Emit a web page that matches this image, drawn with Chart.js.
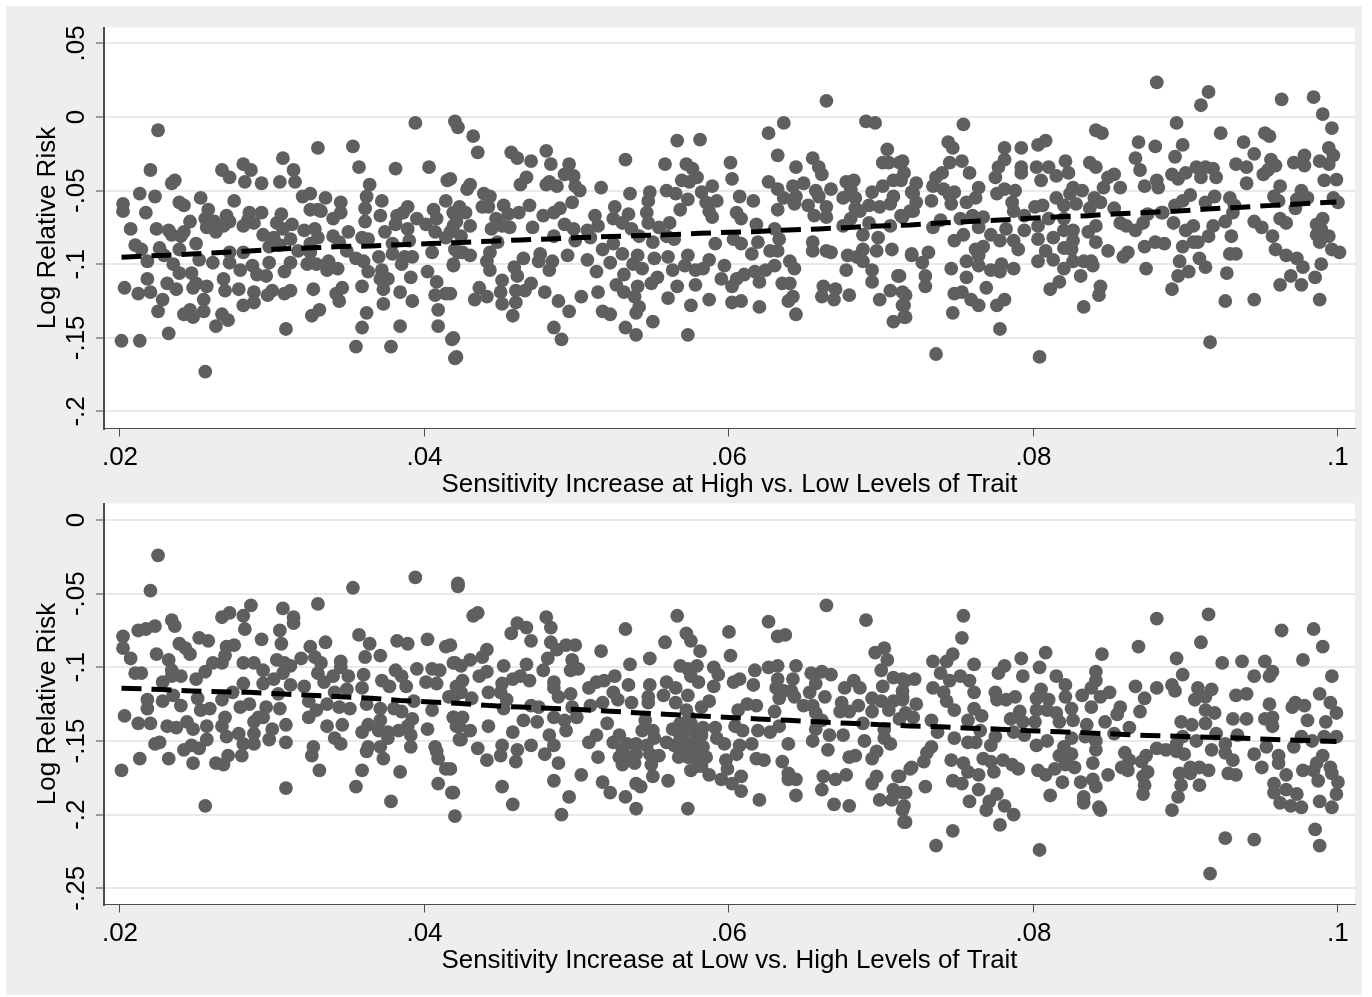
<!DOCTYPE html>
<html>
<head>
<meta charset="utf-8">
<title>Log Relative Risk</title>
<script src="https://cdn.jsdelivr.net/npm/chart.js@4/dist/chart.umd.min.js"></script>
<style>
  html, body { margin: 0; padding: 0; background: #fff; }
  #frame { position: absolute; left: 6px; top: 6px; width: 1356px; height: 989px; background: #eeeeee; }
  canvas { position: absolute; left: 0; }
  #chartHigh { top: 0; }
  #chartLow { top: 476px; }
</style>
</head>
<body>
<div id="frame">
  <canvas id="chartHigh" width="1356" height="494"></canvas>
  <canvas id="chartLow" width="1356" height="494"></canvas>
</div>
<script>
const xTicks = [.02, .04, .06, .08, .1];
const xTickLabels = [".02", ".04", ".06", ".08", ".1"];
const highYTicks = [.05, 0, -.05, -.1, -.15, -.2];
const highYTickLabels = [".05", "0", "-.05", "-.1", "-.15", "-.2"];
const lowYTicks = [0, -.05, -.1, -.15, -.2, -.25];
const lowYTickLabels = ["0", "-.05", "-.1", "-.15", "-.2", "-.25"];
const yTitle = "Log Relative Risk";
const highXTitle = "Sensitivity Increase at High vs. Low Levels of Trait";
const lowXTitle = "Sensitivity Increase at Low vs. High Levels of Trait";

const highFitX = [.0201,.0227,.0247,.0266,.0285,.0305,.0325,.0345,.0365,.0384,.0404,.0424,.0443,.0463,.0482,.0502,.0522,.0542,.0561,.0581,.06,.0619,.0639,.0659,.0679,.0699,.0719,.0739,.0758,.0778,.0797,.0817,.0836,.0856,.0875,.0895,.0914,.0934,.0954,.0974,.0999];
const highFitY = [-.0953,-.094,-.093,-.092,-.091,-.0896,-.0889,-.088,-.0876,-.0867,-.086,-.0852,-.0844,-.0835,-.0828,-.0819,-.0812,-.0805,-.0799,-.079,-.0783,-.0778,-.0767,-.076,-.075,-.074,-.0733,-.072,-.071,-.07,-.0688,-.0677,-.067,-.0657,-.0648,-.0639,-.0625,-.0614,-.0602,-.0591,-.0577];
const lowFitX = [.0201,.0227,.0247,.0266,.0285,.0305,.0325,.0345,.0365,.0384,.0404,.0424,.0443,.0463,.0482,.0502,.0522,.0542,.0561,.0581,.06,.0619,.0639,.0659,.0679,.0699,.0719,.0739,.0758,.0778,.0797,.0817,.0836,.0856,.0875,.0895,.0914,.0934,.0954,.0974,.0999];
const lowFitY = [-.1142,-.115,-.116,-.1166,-.117,-.118,-.119,-.12,-.121,-.1225,-.1236,-.1245,-.126,-.127,-.1278,-.1287,-.1298,-.131,-.132,-.133,-.134,-.135,-.136,-.137,-.138,-.1389,-.1398,-.1404,-.1413,-.142,-.143,-.1438,-.1445,-.1454,-.1463,-.1468,-.1475,-.148,-.1488,-.1495,-.1503];

const highPoints = [
[.0201,-.152],[.0213,-.152],[.0232,-.147],[.0225,-.009],[.022,-.036],[.0213,-.052],[.0223,-.054],[.0202,-.059],[.0202,-.064],[.0217,-.065],[.0207,-.076],[.021,-.087],[.0214,-.09],[.0218,-.098],[.0218,-.11],[.0203,-.116],[.0212,-.12],[.022,-.119],[.0228,-.124],[.0225,-.132],
[.0236,-.043],[.0234,-.045],[.0224,-.076],[.0232,-.077],[.0234,-.08],[.024,-.081],[.0242,-.078],[.0239,-.058],[.0242,-.06],[.0253,-.055],[.0246,-.071],[.0226,-.089],[.0229,-.094],[.0231,-.113],[.0237,-.117],[.0235,-.1],[.0239,-.106],[.0239,-.09],[.025,-.086],[.0252,-.097],
[.0247,-.106],[.025,-.113],[.0248,-.116],[.0257,-.115],[.0255,-.124],[.0255,-.132],[.0246,-.131],[.0242,-.134],[.0248,-.136],[.0263,-.142],[.0256,-.173],[.0258,-.063],[.0256,-.069],[.0257,-.075],[.0263,-.078],[.0262,-.071],[.027,-.067],[.0272,-.071],[.0268,-.074],[.0267,-.036],
[.0272,-.041],[.0281,-.032],[.0286,-.036],[.0282,-.044],[.0293,-.045],[.0275,-.057],[.0285,-.065],[.0293,-.065],[.0284,-.07],[.0288,-.072],[.0281,-.074],[.0294,-.08],[.0303,-.072],[.0306,-.066],[.0313,-.073],[.0307,-.076],[.0301,-.082],[.0312,-.083],[.0305,-.087],[.0298,-.088],
[.0272,-.092],[.0281,-.092],[.0261,-.099],[.0272,-.099],[.0279,-.104],[.0287,-.101],[.029,-.107],[.0296,-.108],[.0298,-.099],[.0312,-.099],[.0308,-.105],[.0268,-.11],[.0269,-.118],[.0278,-.117],[.0288,-.119],[.03,-.118],[.0297,-.121],[.0312,-.118],[.0308,-.12],[.0288,-.126],
[.0281,-.128],[.0267,-.134],[.0271,-.138],[.0309,-.144],[.0307,-.028],[.0314,-.036],[.0315,-.044],[.0305,-.044],[.033,-.021],[.0353,-.02],[.0357,-.034],[.0381,-.035],[.0394,-.004],[.0403,-.034],[.0415,-.043],[.042,-.003],[.0422,-.007],[.0325,-.052],[.032,-.054],[.0325,-.063],
[.033,-.063],[.0335,-.055],[.0332,-.064],[.0345,-.058],[.0345,-.065],[.034,-.069],[.0321,-.077],[.0328,-.076],[.033,-.082],[.0325,-.086],[.0317,-.091],[.0325,-.092],[.034,-.081],[.035,-.078],[.0344,-.085],[.0349,-.091],[.0323,-.1],[.0329,-.1],[.0337,-.098],[.0336,-.104],
[.0343,-.103],[.0327,-.117],[.0346,-.116],[.0342,-.12],[.0344,-.125],[.0331,-.131],[.0326,-.135],[.0364,-.046],[.0362,-.054],[.0361,-.062],[.0361,-.071],[.0372,-.057],[.0371,-.067],[.0382,-.067],[.0386,-.065],[.0389,-.061],[.0395,-.069],[.0381,-.073],[.0374,-.078],[.0389,-.076],
[.0359,-.082],[.0363,-.083],[.0379,-.086],[.039,-.084],[.037,-.095],[.0355,-.096],[.036,-.098],[.0379,-.093],[.0385,-.1],[.0392,-.095],[.0387,-.095],[.0372,-.104],[.0363,-.105],[.0391,-.109],[.0376,-.11],[.0371,-.11],[.0373,-.117],[.0359,-.115],[.0384,-.119],[.0392,-.125],
[.0373,-.127],[.0362,-.133],[.0359,-.143],[.0384,-.142],[.0355,-.156],[.0378,-.156],[.0406,-.063],[.0408,-.069],[.0401,-.073],[.0407,-.078],[.0414,-.082],[.0405,-.092],[.0419,-.101],[.0402,-.105],[.0408,-.112],[.0407,-.121],[.0414,-.12],[.0409,-.131],[.0409,-.142],[.0418,-.151],
[.042,-.164],[.0414,-.057],[.0419,-.065],[.0419,-.074],[.0422,-.092],[.0432,-.013],[.0435,-.024],[.0457,-.024],[.0461,-.028],[.047,-.03],[.048,-.023],[.0483,-.032],[.0495,-.032],[.0492,-.039],[.0498,-.04],[.0499,-.047],[.0502,-.05],[.0467,-.041],[.0463,-.046],[.0482,-.044],
[.0487,-.047],[.048,-.046],[.043,-.046],[.0428,-.049],[.0417,-.042],[.0516,-.048],[.0532,-.029],[.0535,-.052],[.0548,-.051],[.0547,-.057],[.0558,-.032],[.0566,-.016],[.0581,-.0154],[.0572,-.032],[.0576,-.035],[.0579,-.041],[.0569,-.043],[.0574,-.044],[.0559,-.05],[.0565,-.052],
[.0573,-.056],[.0568,-.063],[.0582,-.051],[.0589,-.047],[.0592,-.057],[.0587,-.064],[.0585,-.058],[.0589,-.068],[.0601,-.031],[.0602,-.042],[.0626,-.011],[.0636,-.004],[.0632,-.026],[.0644,-.034],[.0655,-.028],[.0659,-.034],[.0661,-.039],[.0664,.011],[.069,-.003],[.0696,-.004],
[.0704,-.022],[.0701,-.031],[.0705,-.031],[.0714,-.03],[.0713,-.042],[.0708,-.043],[.0701,-.047],[.0626,-.044],[.0632,-.049],[.0642,-.047],[.0649,-.045],[.0657,-.05],[.0659,-.054],[.0667,-.049],[.0677,-.044],[.0682,-.043],[.068,-.049],[.0675,-.055],[.0683,-.055],[.0694,-.051],
[.0692,-.06],[.0708,-.054],[.072,-.051],[.0632,-.063],[.0643,-.059],[.0644,-.054],[.0636,-.055],[.0652,-.06],[.0656,-.067],[.0664,-.061],[.0664,-.068],[.0683,-.062],[.0686,-.064],[.068,-.069],[.0699,-.061],[.0706,-.059],[.0713,-.067],[.0719,-.064],[.0675,-.074],[.0692,-.072],
[.0706,-.074],[.0607,-.054],[.0605,-.065],[.0608,-.069],[.0616,-.057],[.0618,-.073],[.063,-.076],[.0603,-.083],[.0608,-.086],[.0591,-.086],[.0619,-.085],[.0615,-.093],[.0627,-.091],[.0632,-.091],[.0633,-.083],[.064,-.098],[.0643,-.103],[.063,-.101],[.0624,-.104],[.0617,-.105],
[.062,-.112],[.061,-.107],[.0605,-.11],[.0602,-.115],[.0595,-.11],[.0597,-.101],[.0587,-.097],[.0583,-.103],[.0578,-.104],[.0573,-.094],[.0571,-.101],[.0578,-.114],[.0563,-.104],[.0566,-.115],[.056,-.123],[.0575,-.128],[.0587,-.124],[.0602,-.126],[.0608,-.125],[.062,-.129],
[.0635,-.113],[.064,-.113],[.0642,-.122],[.0639,-.125],[.0644,-.134],[.0662,-.115],[.0661,-.122],[.067,-.117],[.0669,-.124],[.0679,-.121],[.0699,-.124],[.0706,-.118],[.0711,-.108],[.0694,-.112],[.0694,-.104],[.0688,-.098],[.0684,-.095],[.0677,-.104],[.0678,-.094],[.0667,-.092],
[.0664,-.091],[.0655,-.091],[.0655,-.085],[.0688,-.09],[.0697,-.091],[.0698,-.082],[.0707,-.09],[.0688,-.08],[.0714,-.119],[.0714,-.128],[.0708,-.139],[.0715,-.136],[.072,-.094],[.0423,-.061],[.0419,-.065],[.0427,-.065],[.0421,-.071],[.043,-.074],[.0417,-.078],[.0424,-.081],
[.0419,-.1],[.0425,-.092],[.043,-.094],[.042,-.09],[.0439,-.052],[.0443,-.054],[.0438,-.061],[.0442,-.061],[.0452,-.06],[.0469,-.06],[.0462,-.065],[.0455,-.066],[.0447,-.069],[.0456,-.075],[.0444,-.076],[.0451,-.074],[.0478,-.067],[.0485,-.065],[.0489,-.062],[.0497,-.058],
[.0492,-.073],[.0498,-.076],[.0471,-.075],[.0485,-.081],[.0507,-.077],[.0499,-.084],[.0509,-.082],[.0512,-.067],[.0514,-.074],[.0525,-.061],[.0524,-.069],[.0534,-.066],[.053,-.072],[.0536,-.076],[.0546,-.065],[.0547,-.072],[.0554,-.075],[.0561,-.072],[.0559,-.081],[.0564,-.083],
[.055,-.085],[.0541,-.081],[.0448,-.085],[.0443,-.092],[.0441,-.098],[.0443,-.104],[.0476,-.093],[.0475,-.098],[.0484,-.098],[.0482,-.104],[.0494,-.094],[.0465,-.096],[.0459,-.102],[.0461,-.108],[.0451,-.111],[.0436,-.116],[.0417,-.12],[.0433,-.124],[.0441,-.122],[.045,-.119],
[.0451,-.127],[.046,-.126],[.0458,-.135],[.046,-.118],[.0466,-.118],[.047,-.113],[.0479,-.119],[.0488,-.125],[.0495,-.132],[.0503,-.122],[.0507,-.097],[.0513,-.105],[.0514,-.119],[.0517,-.09],[.0524,-.086],[.053,-.093],[.0522,-.099],[.0531,-.107],[.0526,-.114],[.0531,-.119],
[.0538,-.122],[.054,-.115],[.0541,-.129],[.0539,-.133],[.0517,-.132],[.0522,-.134],[.055,-.139],[.0532,-.143],[.0539,-.148],[.0573,-.148],[.0485,-.143],[.049,-.151],[.0419,-.15],[.0421,-.163],[.054,-.094],[.0537,-.1],[.0543,-.103],[.0551,-.096],[.056,-.095],[.0553,-.109],
[.0549,-.113],[.0712,-.031],[.0715,-.038],[.0713,-.043],[.0723,-.045],[.0721,-.052],[.0723,-.058],[.0721,-.064],[.0714,-.068],[.0733,-.057],[.0736,-.041],[.0734,-.047],[.074,-.038],[.0745,-.031],[.0753,-.03],[.0744,-.017],[.0747,-.021],[.0754,-.005],[.0758,-.038],[.0741,-.049],
[.0748,-.051],[.0745,-.053],[.0746,-.059],[.0756,-.058],[.0764,-.048],[.0762,-.055],[.0776,-.052],[.0781,-.049],[.0788,-.05],[.0786,-.058],[.0787,-.064],[.0775,-.041],[.0777,-.034],[.0781,-.029],[.0781,-.021],[.0792,-.021],[.0792,-.034],[.0792,-.038],[.0803,-.019],[.0808,-.016],
[.0802,-.034],[.081,-.034],[.0805,-.043],[.0815,-.04],[.0821,-.03],[.0823,-.038],[.0801,-.061],[.0806,-.06],[.0815,-.055],[.082,-.06],[.0794,-.067],[.0826,-.048],[.0832,-.05],[.0824,-.052],[.0828,-.059],[.0837,-.031],[.0841,-.034],[.0841,-.009],[.0845,-.011],[.0853,-.039],
[.0849,-.041],[.0846,-.048],[.084,-.055],[.0844,-.058],[.0857,-.048],[.0853,-.062],[.0837,-.062],[.0734,-.075],[.0739,-.07],[.0752,-.069],[.076,-.067],[.0767,-.068],[.0764,-.075],[.0748,-.084],[.0754,-.08],[.0772,-.08],[.0778,-.084],[.0782,-.076],[.0787,-.084],[.079,-.09],
[.0794,-.077],[.0803,-.074],[.0803,-.083],[.081,-.069],[.082,-.069],[.0813,-.082],[.082,-.077],[.0826,-.077],[.0826,-.084],[.082,-.089],[.0825,-.09],[.0836,-.078],[.0841,-.074],[.0841,-.085],[.0767,-.088],[.0762,-.09],[.0764,-.094],[.0756,-.098],[.0764,-.101],[.0746,-.103],
[.0756,-.109],[.072,-.093],[.0731,-.092],[.0727,-.099],[.0729,-.108],[.0729,-.115],[.0712,-.108],[.0716,-.121],[.0715,-.128],[.0716,-.136],[.0748,-.12],[.0753,-.119],[.0759,-.124],[.0764,-.128],[.0747,-.133],[.0736,-.161],[.0769,-.116],[.0772,-.104],[.0779,-.1],[.0787,-.103],
[.0778,-.105],[.0776,-.128],[.0781,-.124],[.0778,-.144],[.0804,-.163],[.0803,-.098],[.0808,-.091],[.0813,-.097],[.082,-.103],[.0826,-.098],[.0833,-.098],[.0838,-.098],[.0839,-.101],[.0831,-.108],[.0817,-.112],[.0811,-.117],[.0844,-.115],[.0843,-.121],[.0833,-.129],[.0849,-.091],
[.0859,-.095],[.0862,-.092],[.0857,-.072],[.0861,-.074],[.0867,-.077],[.0872,-.072],[.0875,-.066],[.0884,-.065],[.0892,-.072],[.0873,-.088],[.088,-.085],[.0886,-.086],[.0874,-.103],[.0869,-.017],[.088,-.02],[.0881,.0235],[.0867,-.028],[.087,-.036],[.0873,-.047],[.0881,-.043],
[.0882,-.048],[.0891,-.039],[.0895,-.042],[.09,-.038],[.0893,-.027],[.0898,-.019],[.0894,-.004],[.091,.008],[.0915,.017],[.0923,-.011],[.0907,-.034],[.0913,-.034],[.0918,-.035],[.091,-.041],[.092,-.041],[.0938,-.017],[.0933,-.032],[.094,-.034],[.0945,-.025],[.094,-.045],
[.0952,-.011],[.0955,-.013],[.0963,.012],[.0984,.0135],[.099,.002],[.0996,-.0075],[.0994,-.021],[.0997,-.026],[.0988,-.03],[.0994,-.032],[.0971,-.031],[.0978,-.026],[.0978,-.033],[.0956,-.029],[.0959,-.033],[.0954,-.036],[.0951,-.039],[.0962,-.047],[.0958,-.054],[.0991,-.043],
[.0999,-.0426],[.0976,-.05],[.098,-.055],[.0973,-.056],[.0997,-.055],[.1,-.058],[.0961,-.057],[.0932,-.06],[.0929,-.055],[.0919,-.054],[.0913,-.058],[.0903,-.053],[.0898,-.057],[.0893,-.06],[.0885,-.065],[.0926,-.071],[.0931,-.065],[.0945,-.071],[.095,-.075],[.0962,-.069],
[.0966,-.072],[.0972,-.062],[.0957,-.081],[.0959,-.09],[.0966,-.094],[.0973,-.096],[.0977,-.102],[.0989,-.1],[.0985,-.109],[.0976,-.114],[.0969,-.108],[.0962,-.114],[.0988,-.124],[.0945,-.124],[.0926,-.125],[.0927,-.106],[.0929,-.093],[.0933,-.093],[.093,-.081],[.0916,-.153],
[.0905,-.074],[.09,-.077],[.0898,-.088],[.0908,-.085],[.0905,-.085],[.0915,-.081],[.0918,-.074],[.0896,-.098],[.0909,-.096],[.0913,-.102],[.0902,-.105],[.0895,-.108],[.0891,-.117],[.0986,-.073],[.099,-.069],[.0989,-.076],[.0986,-.08],[.0994,-.081],[.0988,-.085],[.0996,-.09],
[.1001,-.092]
];

const lowPoints = [
[.0225,-.024],[.022,-.048],[.0353,-.046],[.0394,-.039],[.0422,-.045],[.0422,-.043],[.0286,-.058],[.033,-.057],[.0307,-.06],[.0314,-.066],[.0314,-.07],[.0305,-.075],[.0281,-.065],[.0282,-.074],[.0267,-.066],[.0272,-.063],[.0212,-.075],[.0217,-.074],[.0223,-.072],[.0234,-.068],
[.0236,-.072],[.0202,-.079],[.0202,-.087],[.0207,-.094],[.0224,-.091],[.0239,-.084],[.0246,-.091],[.0243,-.087],[.0252,-.08],[.0258,-.082],[.0293,-.081],[.0306,-.084],[.0275,-.085],[.027,-.086],[.0269,-.092],[.0267,-.097],[.0261,-.097],[.0232,-.095],[.0234,-.102],[.0325,-.086],
[.0319,-.094],[.0328,-.093],[.0335,-.083],[.0332,-.097],[.0303,-.095],[.0308,-.097],[.0312,-.099],[.0307,-.104],[.0301,-.108],[.0281,-.097],[.0288,-.097],[.0294,-.102],[.0345,-.096],[.0345,-.1],[.0357,-.078],[.0364,-.084],[.0361,-.093],[.0371,-.092],[.0382,-.082],[.0389,-.084],
[.0402,-.081],[.0414,-.086],[.0395,-.101],[.0405,-.101],[.041,-.102],[.0419,-.097],[.0381,-.102],[.0385,-.106],[.036,-.105],[.035,-.106],[.034,-.106],[.033,-.104],[.0334,-.11],[.0359,-.114],[.0372,-.109],[.0377,-.113],[.0388,-.113],[.0401,-.11],[.0408,-.111],[.0416,-.12],
[.0421,-.113],[.021,-.104],[.0214,-.104],[.024,-.106],[.0228,-.11],[.0234,-.106],[.025,-.108],[.0256,-.103],[.0281,-.111],[.0294,-.111],[.0312,-.112],[.0321,-.113],[.0341,-.117],[.0349,-.115],[.0218,-.122],[.0218,-.128],[.0228,-.123],[.0235,-.119],[.024,-.126],[.0251,-.121],
[.0267,-.122],[.0274,-.117],[.0279,-.127],[.0285,-.125],[.0296,-.127],[.0305,-.128],[.0304,-.118],[.0324,-.123],[.0329,-.129],[.0336,-.125],[.0344,-.127],[.0351,-.128],[.0362,-.125],[.0371,-.128],[.038,-.128],[.0385,-.13],[.0393,-.123],[.0253,-.129],[.0259,-.128],[.0203,-.133],
[.0212,-.138],[.022,-.138],[.0231,-.14],[.0237,-.141],[.0244,-.137],[.0248,-.142],[.0257,-.14],[.0269,-.134],[.0267,-.14],[.027,-.147],[.0278,-.145],[.0288,-.137],[.0291,-.134],[.0294,-.134],[.03,-.142],[.0309,-.139],[.0324,-.134],[.0336,-.14],[.0346,-.139],[.0392,-.135],
[.0405,-.129],[.0419,-.134],[.0421,-.14],[.0363,-.139],[.0359,-.144],[.0371,-.136],[.037,-.143],[.0376,-.144],[.0383,-.143],[.0389,-.14],[.0391,-.146],[.0402,-.142],[.0288,-.145],[.0288,-.152],[.0281,-.152],[.0298,-.149],[.0309,-.151],[.0226,-.151],[.0223,-.152],[.0242,-.156],
[.0247,-.153],[.0252,-.155],[.0257,-.149],[.0232,-.162],[.0213,-.162],[.0201,-.17],[.0248,-.165],[.0263,-.165],[.0268,-.166],[.0271,-.16],[.028,-.16],[.0341,-.148],[.0345,-.152],[.0327,-.154],[.0326,-.16],[.0363,-.154],[.0362,-.157],[.0371,-.154],[.0376,-.148],[.0373,-.162],
[.0391,-.154],[.0407,-.154],[.0408,-.157],[.0409,-.162],[.0359,-.17],[.0331,-.17],[.0384,-.171],[.0414,-.169],[.0423,-.149],[.0309,-.182],[.0355,-.181],[.0409,-.179],[.0418,-.185],[.0378,-.191],[.0256,-.194],[.042,-.201],
[.0432,-.065],[.0435,-.063],[.0461,-.07],[.0467,-.073],[.0457,-.077],[.047,-.082],[.048,-.066],[.0483,-.073],[.0483,-.083],[.0487,-.088],[.0493,-.085],[.0499,-.085],[.0481,-.094],[.0497,-.095],[.0478,-.102],[.0496,-.102],[.0501,-.101],[.0516,-.089],[.0532,-.074],[.0535,-.098],
[.0548,-.094],[.0558,-.083],[.0566,-.065],[.0572,-.077],[.0575,-.082],[.0581,-.089],[.06,-.076],[.0601,-.092],[.0626,-.069],[.0632,-.079],[.0637,-.078],[.0664,-.058],[.069,-.068],[.0644,-.099],[.0626,-.1],[.0632,-.099],[.0617,-.102],[.0616,-.112],[.0568,-.099],[.0573,-.101],
[.0579,-.099],[.059,-.1],[.0593,-.105],[.058,-.11],[.0575,-.106],[.059,-.113],[.0603,-.11],[.0607,-.108],[.0654,-.104],[.0661,-.103],[.0667,-.105],[.0657,-.111],[.0696,-.09],[.0702,-.087],[.0704,-.095],[.07,-.102],[.0708,-.107],[.0701,-.113],[.0714,-.108],[.0714,-.116],
[.0682,-.109],[.0676,-.114],[.0686,-.114],[.0632,-.108],[.0631,-.114],[.0642,-.108],[.0641,-.116],[.0636,-.116],[.0653,-.117],[.0663,-.12],[.0674,-.124],[.0685,-.126],[.0673,-.13],[.0679,-.13],[.0694,-.121],[.07,-.123],[.0708,-.123],[.0694,-.13],[.0705,-.129],[.0714,-.122],
[.0712,-.135],[.0643,-.12],[.0649,-.126],[.063,-.13],[.0633,-.121],[.0655,-.126],[.0657,-.131],[.0661,-.136],[.0618,-.126],[.0612,-.125],[.0606,-.129],[.0587,-.123],[.0582,-.127],[.0572,-.129],[.0559,-.11],[.0565,-.114],[.0548,-.112],[.0557,-.119],[.0547,-.12],[.0547,-.124],
[.0573,-.119],[.0565,-.124],[.0534,-.112],[.0536,-.124],[.0525,-.106],[.0518,-.109],[.0513,-.11],[.0508,-.114],[.0524,-.117],[.0527,-.122],[.0517,-.124],[.0509,-.126],[.0485,-.11],[.0485,-.114],[.0488,-.12],[.0496,-.118],[.0497,-.127],[.0469,-.109],[.0463,-.106],[.0458,-.108],
[.0467,-.098],[.0452,-.099],[.0441,-.088],[.0438,-.093],[.043,-.095],[.042,-.097],[.0424,-.099],[.0441,-.103],[.0436,-.106],[.0451,-.111],[.0442,-.117],[.045,-.117],[.0425,-.109],[.0424,-.117],[.0431,-.121],[.042,-.119],[.0454,-.122],[.0417,-.085],[.0452,-.128],[.047,-.126],
[.0475,-.127],[.0419,-.134],[.0425,-.134],[.0423,-.14],[.0442,-.14],[.043,-.143],[.0424,-.149],[.0465,-.136],[.0458,-.144],[.0474,-.137],[.0485,-.134],[.0482,-.146],[.0492,-.136],[.0493,-.143],[.05,-.134],[.0513,-.146],[.0508,-.151],[.052,-.138],[.0528,-.146],[.0524,-.151],
[.0435,-.155],[.0441,-.163],[.045,-.16],[.0451,-.153],[.046,-.164],[.0461,-.156],[.047,-.153],[.0479,-.159],[.0485,-.153],[.0488,-.165],[.0503,-.173],[.0485,-.177],[.0451,-.181],[.0458,-.193],[.0495,-.188],[.049,-.2],[.0419,-.185],[.0417,-.169],[.0514,-.161],[.0517,-.178],
[.0522,-.185],[.0532,-.188],[.0539,-.196],[.0539,-.179],[.0542,-.181],[.055,-.174],[.056,-.177],[.0573,-.196],[.053,-.156],[.0528,-.161],[.053,-.166],[.0538,-.165],[.0539,-.152],[.0543,-.143],[.0545,-.136],[.055,-.143],[.0551,-.148],[.0548,-.159],[.0554,-.16],[.0549,-.166],
[.0559,-.151],[.0564,-.153],[.0567,-.161],[.0563,-.142],[.0568,-.138],[.0575,-.138],[.0578,-.145],[.0574,-.152],[.0582,-.146],[.0579,-.156],[.0573,-.161],[.0585,-.161],[.0579,-.167],[.0575,-.17],[.0591,-.141],[.0592,-.148],[.0597,-.152],[.0607,-.153],[.0615,-.152],[.0605,-.159],
[.0598,-.163],[.0587,-.173],[.0595,-.176],[.0599,-.169],[.0608,-.174],[.0602,-.179],[.0608,-.184],[.0604,-.14],[.0609,-.143],[.0619,-.143],[.0627,-.144],[.0633,-.14],[.0639,-.152],[.0618,-.162],[.0623,-.163],[.0635,-.164],[.0639,-.172],[.0644,-.176],[.0639,-.176],[.062,-.19],
[.0644,-.187],[.0655,-.15],[.0665,-.156],[.0657,-.142],[.0666,-.146],[.0675,-.146],[.0689,-.15],[.0679,-.161],[.0683,-.16],[.0697,-.157],[.0694,-.162],[.0688,-.138],[.0702,-.142],[.0706,-.152],[.0702,-.148],[.0677,-.173],[.067,-.176],[.0662,-.174],[.0661,-.183],[.0697,-.174],
[.0694,-.179],[.0711,-.174],[.0669,-.193],[.0679,-.194],[.0699,-.19],[.0708,-.183],[.0707,-.19],[.0714,-.185],[.0714,-.197],[.0715,-.205],[.0719,-.169],
[.0754,-.065],[.0753,-.08],[.0734,-.096],[.0747,-.091],[.0743,-.096],[.0761,-.098],[.0781,-.099],[.0777,-.104],[.0792,-.094],[.0793,-.106],[.0804,-.1],[.0808,-.09],[.0815,-.106],[.0821,-.112],[.0821,-.12],[.0841,-.103],[.0841,-.109],[.0845,-.091],[.0869,-.086],[.0881,-.067],
[.0894,-.094],[.091,-.083],[.0915,-.064],[.0898,-.105],[.0891,-.112],[.0881,-.114],[.0893,-.116],[.0867,-.113],[.0873,-.121],[.087,-.13],[.0924,-.097],[.0937,-.096],[.0945,-.106],[.0952,-.096],[.0957,-.103],[.0955,-.106],[.0963,-.075],[.0984,-.074],[.099,-.086],[.0977,-.095],
[.0996,-.106],[.0933,-.119],[.094,-.118],[.0908,-.114],[.0917,-.115],[.0906,-.122],[.0913,-.12],[.0955,-.125],[.0957,-.134],[.0952,-.135],[.0957,-.14],[.0972,-.124],[.097,-.127],[.0978,-.126],[.098,-.136],[.0988,-.118],[.0995,-.124],[.0999,-.131],[.0992,-.137],[.0999,-.147],
[.0931,-.135],[.094,-.135],[.0934,-.146],[.092,-.145],[.0926,-.152],[.0913,-.129],[.0919,-.131],[.0913,-.138],[.0907,-.15],[.0897,-.137],[.0904,-.139],[.0898,-.147],[.0894,-.152],[.085,-.117],[.0844,-.12],[.0832,-.119],[.0838,-.114],[.0838,-.127],[.0857,-.127],[.0855,-.132],
[.0847,-.137],[.0863,-.141],[.0853,-.145],[.0835,-.139],[.0834,-.147],[.0841,-.15],[.0841,-.156],[.0805,-.115],[.0802,-.121],[.081,-.122],[.0802,-.129],[.0809,-.129],[.0815,-.131],[.0825,-.128],[.0817,-.137],[.0826,-.136],[.0775,-.117],[.0776,-.122],[.0782,-.122],[.0788,-.12],
[.0791,-.13],[.0785,-.135],[.0793,-.137],[.0801,-.137],[.0734,-.114],[.0739,-.104],[.0741,-.117],[.0745,-.109],[.0752,-.106],[.0758,-.109],[.0761,-.117],[.0743,-.123],[.0748,-.129],[.0722,-.108],[.0716,-.109],[.0714,-.12],[.0723,-.125],[.0721,-.134],[.0716,-.131],[.0733,-.136],
[.0737,-.144],[.0748,-.148],[.0757,-.151],[.0762,-.151],[.0761,-.128],[.0766,-.133],[.0757,-.136],[.0765,-.143],[.0775,-.147],[.0772,-.153],[.0787,-.144],[.0794,-.146],[.0802,-.153],[.0809,-.15],[.082,-.154],[.0825,-.148],[.0733,-.154],[.073,-.158],[.0728,-.164],[.072,-.168],
[.0712,-.174],[.0746,-.163],[.0754,-.165],[.0757,-.171],[.0764,-.173],[.0767,-.162],[.0772,-.164],[.0774,-.171],[.078,-.163],[.0786,-.166],[.079,-.169],[.0747,-.177],[.0753,-.179],[.0764,-.183],[.0729,-.181],[.0716,-.185],[.0715,-.194],[.0716,-.205],[.0758,-.191],[.0776,-.186],
[.0771,-.191],[.0769,-.197],[.0781,-.194],[.0787,-.2],[.0778,-.207],[.0747,-.211],[.0736,-.221],[.0804,-.224],[.0803,-.17],[.0808,-.173],[.0814,-.169],[.0819,-.178],[.0811,-.187],[.0817,-.16],[.0825,-.159],[.0821,-.166],[.0827,-.168],[.0839,-.165],[.0839,-.176],[.0831,-.178],
[.0849,-.173],[.0841,-.181],[.0833,-.188],[.0833,-.192],[.0843,-.195],[.0844,-.197],[.086,-.158],[.0863,-.163],[.0858,-.168],[.0862,-.17],[.0871,-.164],[.0874,-.16],[.0881,-.155],[.0887,-.156],[.0894,-.157],[.0899,-.159],[.0875,-.171],[.0872,-.174],[.0873,-.18],[.0872,-.186],
[.0896,-.172],[.0897,-.18],[.0895,-.188],[.0891,-.197],[.0909,-.18],[.0903,-.168],[.0909,-.168],[.0915,-.17],[.0903,-.172],[.0917,-.156],[.0926,-.158],[.0931,-.163],[.0928,-.172],[.0933,-.173],[.0945,-.159],[.095,-.168],[.0953,-.154],[.0961,-.16],[.0961,-.165],[.0966,-.173],
[.0958,-.179],[.0958,-.185],[.0966,-.183],[.0973,-.186],[.0962,-.192],[.0969,-.194],[.0976,-.195],[.0971,-.154],[.0976,-.147],[.0983,-.15],[.0991,-.147],[.099,-.16],[.0986,-.165],[.0977,-.17],[.0984,-.17],[.0995,-.168],[.0996,-.172],[.0987,-.177],[.1,-.178],[.0999,-.186],
[.0996,-.195],[.0988,-.191],[.0926,-.216],[.0945,-.217],[.0985,-.21],[.0988,-.221],[.0916,-.24],
[.057,-.145],[.057,-.152],[.058,-.151],[.0583,-.154],[.057,-.156],[.0577,-.161],[.0582,-.167],[.0568,-.147],[.0583,-.141],[.0574,-.134],[.058,-.162],[.0539,-.159],[.0546,-.153],[.0533,-.152],[.0536,-.161]
];

const markerColor = "#5f5f5f";
const axisColor = "#4d4d4d";
const gridColor = "#e9e9e9";
const fontFamily = "'Liberation Sans', Arial, sans-serif";

// white plot region on top of the grey frame
const plotBackground = {
  id: "plotBackground",
  beforeDraw(chart) {
    const { ctx, chartArea } = chart;
    ctx.save();
    ctx.fillStyle = "#fff";
    ctx.fillRect(chartArea.left, chartArea.top, chartArea.right - chartArea.left, chartArea.bottom - chartArea.top);
    ctx.restore();
  },
};

function makeLabels(values, labels) {
  return (value) => {
    const i = values.findIndex((v) => Math.abs(v - value) < 1e-9);
    return i >= 0 ? labels[i] : "";
  };
}

function drawPanel(canvasId, opts) {
  const ctx = document.getElementById(canvasId).getContext("2d");
  return new Chart(ctx, {
    type: "scatter",
    data: {
      datasets: [
        {
          data: opts.fitX.map((x, i) => ({ x, y: opts.fitY[i] })),
          showLine: true,
          pointRadius: 0,
          borderColor: "#000",
          borderWidth: 5,
          borderDash: [20, 10],
          borderCapStyle: "butt",
          order: 0,
        },
        {
          data: opts.points.map(([x, y]) => ({ x, y })),
          pointRadius: 6.9,
          pointHoverRadius: 6.9,
          pointBorderWidth: 0,
          backgroundColor: markerColor,
          order: 1,
        },
      ],
    },
    options: {
      responsive: false,
      animation: false,
      layout: { padding: { left: 0, right: 7, top: opts.topPad, bottom: 0 } },
      plugins: { legend: { display: false }, tooltip: { enabled: false } },
      scales: {
        x: {
          type: "linear",
          min: 0.01895,
          max: 0.10112,
          afterBuildTicks: (axis) => { axis.ticks = xTicks.map((value) => ({ value })); },
          afterFit: (axis) => { axis.height = opts.bottomHeight; },
          ticks: {
            autoSkip: false,
            maxRotation: 0,
            padding: 6,
            color: "#000",
            font: { family: fontFamily, size: 26 },
            callback: makeLabels(xTicks, xTickLabels),
          },
          grid: { drawOnChartArea: false, tickLength: 8, tickColor: axisColor, tickWidth: 1 },
          border: { color: axisColor, width: 1 },
          title: {
            display: true,
            text: opts.xTitle,
            color: "#000",
            font: { family: fontFamily, size: 25.9 },
            padding: { top: 0, bottom: 0 },
          },
        },
        y: {
          min: opts.yMin,
          max: opts.yMax,
          afterBuildTicks: (axis) => { axis.ticks = opts.yTicks.map((value) => ({ value })); },
          afterFit: (axis) => { axis.width = 98; },
          ticks: {
            autoSkip: false,
            minRotation: 90,
            maxRotation: 90,
            crossAlign: "center",
            padding: -3,
            color: "#000",
            font: { family: fontFamily, size: 26 },
            callback: makeLabels(opts.yTicks, opts.yLabels),
          },
          grid: { color: gridColor, lineWidth: 2, tickLength: 8, tickColor: axisColor, tickWidth: 1 },
          border: { color: axisColor, width: 2 },
          title: {
            display: true,
            text: yTitle,
            color: "#000",
            font: { family: fontFamily, size: 26 },
            padding: { top: 26, bottom: 0 },
          },
        },
      },
    },
    plugins: [plotBackground],
  });
}

drawPanel("chartHigh", {
  points: highPoints, fitX: highFitX, fitY: highFitY,
  yTicks: highYTicks, yLabels: highYTickLabels, xTitle: highXTitle,
  yMin: -0.2116, yMax: 0.0608, topPad: 21.5, bottomHeight: 71.5,
});
drawPanel("chartLow", {
  points: lowPoints, fitX: lowFitX, fitY: lowFitY,
  yTicks: lowYTicks, yLabels: lowYTickLabels, xTitle: lowXTitle,
  yMin: -0.261, yMax: 0.0112, topPad: 21.5, bottomHeight: 71.5,
});
</script>
</body>
</html>
